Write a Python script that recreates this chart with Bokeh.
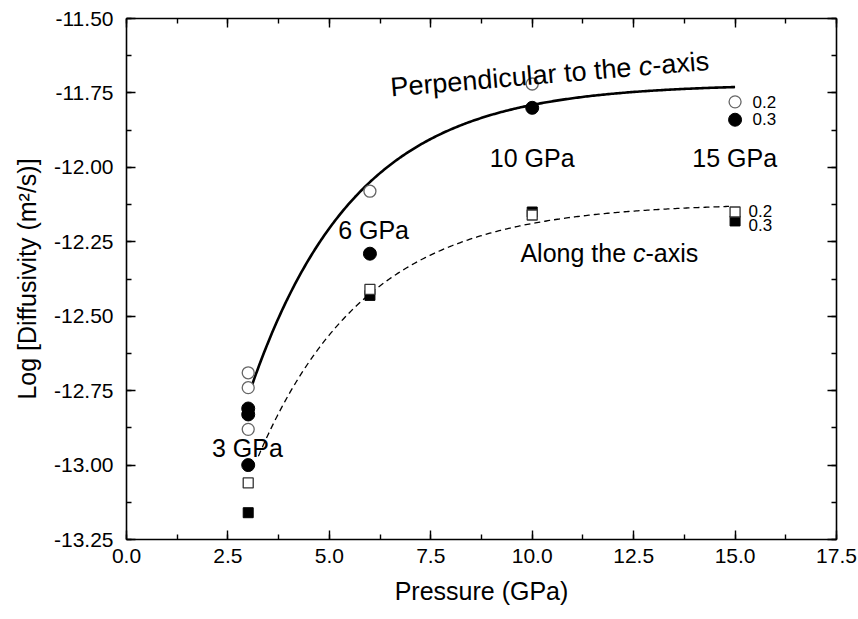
import math
import numpy as np
from bokeh.plotting import figure
from bokeh.models import (LinearAxis, SingleIntervalTicker, PrintfTickFormatter,
                          CustomJSTickFormatter, Label, Range1d)
from bokeh.embed import file_html
from bokeh.resources import INLINE

FONT = "Liberation Sans"

# log10 of diffusivity (m^2/s) against pressure (GPa)
# perpendicular to the c-axis: open = 0.2, filled = 0.3
perp_open_p = [3, 3, 3, 6, 10, 15]
perp_open_logd = [-12.69, -12.74, -12.88, -12.08, -11.72, -11.78]
perp_fill_p = [3, 3, 3, 6, 10, 15]
perp_fill_logd = [-12.81, -12.83, -13.00, -12.29, -11.80, -11.84]
# along the c-axis: open = 0.2, filled = 0.3
along_open_p = [3, 6, 10, 15]
along_open_logd = [-13.06, -12.41, -12.16, -12.15]
along_fill_p = [3, 6, 10, 15]
along_fill_logd = [-13.16, -12.43, -12.15, -12.18]

# exponential saturation fits: logD = plateau - amp * exp(-P / tau)
perp_fit = dict(plateau=-11.72, amp=3.34, tau=2.59, p_min=3.03, p_max=15.0)
along_fit = dict(plateau=-12.12, amp=2.86, tau=2.68, p_min=3.25, p_max=14.85)

pressure_labels = ["3 GPa", "6 GPa", "10 GPa", "15 GPa"]
pressure_label_p = [2.98, 6.09, 10.0, 14.99]
pressure_label_logd = [-12.944, -12.212, -11.97, -11.97]

content_labels = ["0.2", "0.3", "0.2", "0.3"]
content_label_p = [15.43, 15.43, 15.33, 15.33]
content_label_logd = [-11.779, -11.839, -12.148, -12.195]

x_ticks_step = 2.5
y_ticks_step = 0.25

p = figure(width=858, height=619,
           x_range=Range1d(0, 17.5), y_range=Range1d(-13.25, -11.5),
           x_axis_type=None, y_axis_type=None,
           output_backend="svg", toolbar_location=None,
           min_border_left=126, min_border_right=22,
           min_border_top=18, min_border_bottom=80)
p.outline_line_color = None
p.background_fill_color = "white"
p.border_fill_color = "white"


def style_axis(ax, labeled):
    ax.axis_line_color = "black"
    ax.axis_line_width = 1.6
    ax.major_tick_in = 9
    ax.major_tick_out = 0
    ax.minor_tick_in = 5
    ax.minor_tick_out = 0
    ax.major_tick_line_width = 1.4
    ax.minor_tick_line_width = 1.4
    ax.major_tick_line_color = "black"
    ax.minor_tick_line_color = "black"
    ax.major_label_text_font = FONT
    ax.major_label_text_font_size = "21px"
    ax.major_label_text_color = "black"
    ax.axis_label_text_font = FONT
    ax.axis_label_text_font_size = "25px"
    ax.axis_label_text_font_style = "normal"
    ax.axis_label_text_color = "black"
    if not labeled:
        ax.formatter = CustomJSTickFormatter(code="return ''")
        ax.major_label_standoff = 0


xb = LinearAxis(ticker=SingleIntervalTicker(interval=x_ticks_step, num_minor_ticks=2),
                formatter=PrintfTickFormatter(format="%.1f"),
                axis_label="Pressure (GPa)")
style_axis(xb, True)
xb.major_label_standoff = 9
xb.axis_label_standoff = 11
p.add_layout(xb, "below")

yl = LinearAxis(ticker=SingleIntervalTicker(interval=y_ticks_step, num_minor_ticks=2),
                formatter=PrintfTickFormatter(format="%.2f"),
                axis_label="Log [Diffusivity (m²/s)]")
style_axis(yl, True)
yl.major_label_standoff = 13
yl.axis_label_standoff = 10
p.add_layout(yl, "left")

xt = LinearAxis(ticker=SingleIntervalTicker(interval=x_ticks_step, num_minor_ticks=2))
style_axis(xt, False)
p.add_layout(xt, "above")

yr = LinearAxis(ticker=SingleIntervalTicker(interval=y_ticks_step, num_minor_ticks=2))
style_axis(yr, False)
p.add_layout(yr, "right")

# fitted curves
for fit, dash, width in ((perp_fit, "solid", 2.6), (along_fit, "6 4", 1.3)):
    pp = np.linspace(fit["p_min"], fit["p_max"], 300)
    p.line(pp, fit["plateau"] - fit["amp"] * np.exp(-pp / fit["tau"]),
           line_color="black", line_width=width, line_dash=dash)

# data points
p.scatter(along_fill_p, along_fill_logd, marker="square", size=10,
          fill_color="black", line_color="black", line_width=1)
p.scatter(along_open_p, along_open_logd, marker="square", size=10,
          fill_color="white", line_color="#333333", line_width=1.3)
p.scatter(perp_fill_p, perp_fill_logd, marker="circle", size=13,
          fill_color="black", line_color="black", line_width=1)
p.scatter(perp_open_p, perp_open_logd, marker="circle", size=12,
          fill_color="white", line_color="#666666", line_width=1.3)


def add_label(x, y, text, size="25px", align="center", baseline="middle",
              angle=0.0, dx=0.0, dy=0.0, style="normal"):
    p.add_layout(Label(x=x, y=y, text=text, x_offset=dx, y_offset=dy, angle=angle,
                       text_font=FONT, text_font_size=size, text_font_style=style,
                       text_color="black", text_align=align, text_baseline=baseline))


for txt, xv, yv in zip(pressure_labels, pressure_label_p, pressure_label_logd):
    add_label(xv, yv, txt)

for txt, xv, yv in zip(content_labels, content_label_p, content_label_logd):
    add_label(xv, yv, txt, size="17px", align="left")


def axis_phrase(x, y, lead, size_px, angle_deg):
    """Write '<lead>c-axis' with an italic c, along a baseline tilted by angle_deg."""
    a = math.radians(angle_deg)
    # advance widths in em for the Arial-metric face
    widths = {"P": .667, "e": .556, "r": .333, "p": .556, "n": .556, "d": .556,
              "i": .222, "c": .5, "u": .556, "l": .222, "a": .556, " ": .278,
              "t": .278, "o": .556, "h": .556, "A": .667, "g": .556}
    w_lead = sum(widths[ch] for ch in lead) * size_px
    w_c = 0.5 * size_px
    size = f"{size_px}px"
    kw = dict(size=size, align="left", baseline="alphabetic", angle=a)
    add_label(x, y, lead, **kw)
    add_label(x, y, "c", dx=w_lead * math.cos(a), dy=w_lead * math.sin(a),
              style="italic", **kw)
    w2 = w_lead + w_c
    add_label(x, y, "-axis", dx=w2 * math.cos(a), dy=w2 * math.sin(a), **kw)


axis_phrase(6.507, -11.732, "Perpendicular to the ", 27, 4.8)
axis_phrase(9.71, -12.286, "Along the ", 25, 0.0)

open("out.html", "w").write(file_html(p, INLINE))
